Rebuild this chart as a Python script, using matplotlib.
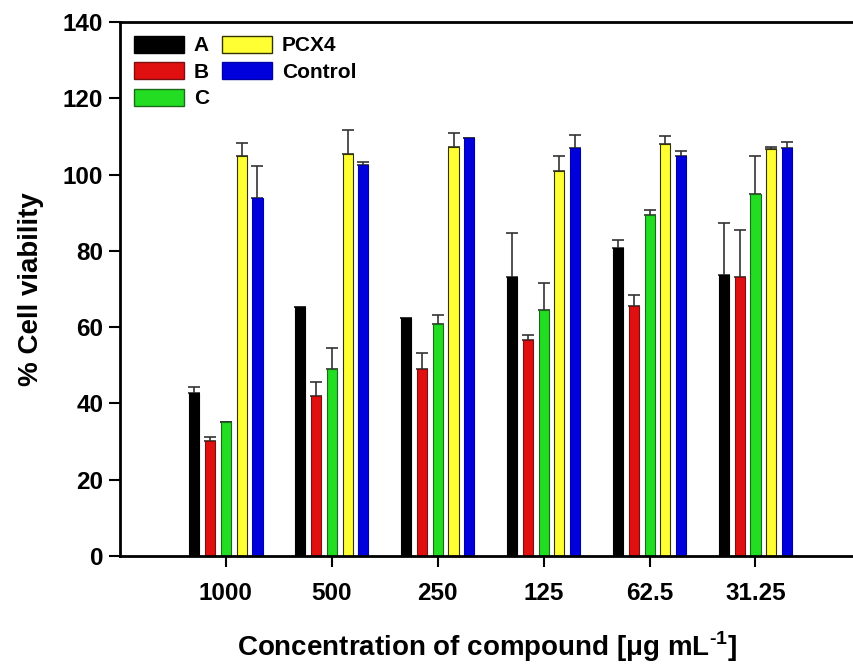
import numpy as np
import matplotlib
matplotlib.use('Agg')
import matplotlib.pyplot as plt
from matplotlib.patches import Patch

plt.rcParams['font.family'] = ['Liberation Sans', 'DejaVu Sans']
plt.rcParams['font.weight'] = 'bold'
plt.rcParams['mathtext.fontset'] = 'custom'
plt.rcParams['mathtext.rm'] = 'Liberation Sans:bold'
plt.rcParams['mathtext.bf'] = 'Liberation Sans:bold'

concentrations = ['1000', '500', '250', '125', '62.5', '31.25']
series_names = ['A', 'B', 'C', 'PCX4', 'Control']

# mean values
a_vals = [42.8, 65.3, 62.4, 73.1, 80.8, 73.7]
b_vals = [30.1, 41.9, 48.9, 56.6, 65.5, 73.1]
c_vals = [35.2, 49.1, 60.8, 64.6, 89.5, 94.8]
pcx4_vals = [104.9, 105.3, 107.3, 101.0, 108.1, 106.6]
control_vals = [93.9, 102.6, 109.5, 106.9, 104.9, 106.9]

# upper error bars
a_err = [1.4, 0.0, 0.0, 11.5, 2.0, 13.5]
b_err = [1.2, 3.6, 4.4, 1.4, 3.0, 12.3]
c_err = [0.0, 5.4, 2.5, 6.9, 1.1, 10.2]
pcx4_err = [3.4, 6.3, 3.5, 4.0, 1.9, 0.5]
control_err = [8.4, 0.6, 0.0, 3.5, 1.2, 1.6]

values = [a_vals, b_vals, c_vals, pcx4_vals, control_vals]
errors = [a_err, b_err, c_err, pcx4_err, control_err]
face_colors = ['#000000', '#e01010', '#22dd22', '#ffff33', '#0000dd']
edge_colors = ['#000000', '#7a1010', '#1a6a1a', '#333300', '#0000aa']


def main():
    fig = plt.figure(figsize=(8.54, 6.68), dpi=100)
    ax = fig.add_axes([120 / 854, 112 / 668, 734 / 854, 534 / 668])

    x = np.arange(len(concentrations))
    pitch = 0.149
    width = 0.095
    for i, (vals, errs) in enumerate(zip(values, errors)):
        pos = x + (i - 2) * pitch
        ax.bar(pos, vals, width=width, color=face_colors[i], edgecolor=edge_colors[i],
               linewidth=0.8, zorder=2)
        # only the upper half of the error bar is drawn
        ax.errorbar(pos, vals, yerr=[np.zeros(len(errs)), errs], fmt='none',
                    ecolor='#333333', elinewidth=1.2, capsize=4.5, capthick=1.2, zorder=1)

    ax.set_ylim(0, 140)
    ax.set_xlim(-1.0, 5.93)
    ax.set_yticks(np.arange(0, 141, 20))
    ax.set_xticks(x)
    ax.set_xticklabels(concentrations)

    for side in ['left', 'bottom', 'top']:
        ax.spines[side].set_linewidth(2)
    ax.spines['right'].set_visible(False)

    ax.tick_params(axis='both', direction='out', length=8, width=1.5, labelsize=17.5)
    ax.tick_params(axis='x', pad=11)
    ax.tick_params(axis='y', pad=4)

    ax.set_ylabel('% Cell viability', fontsize=20, fontweight='bold', labelpad=14)
    ax.set_xlabel(r'Concentration of compound [μg mL$^{\text{-1}}$]', fontsize=20,
                  fontweight='bold', labelpad=17)

    handles = [Patch(facecolor=face_colors[i], edgecolor=edge_colors[i], label=series_names[i])
               for i in range(len(series_names))]
    ax.legend(handles=handles, loc='upper left', ncol=2, frameon=False,
              fontsize=15, handlelength=2.4, handleheight=0.9, columnspacing=0.6,
              handletextpad=0.5, labelspacing=0.32, borderaxespad=0.25)

    fig.savefig('out.png', dpi=100)


if __name__ == '__main__':
    main()
